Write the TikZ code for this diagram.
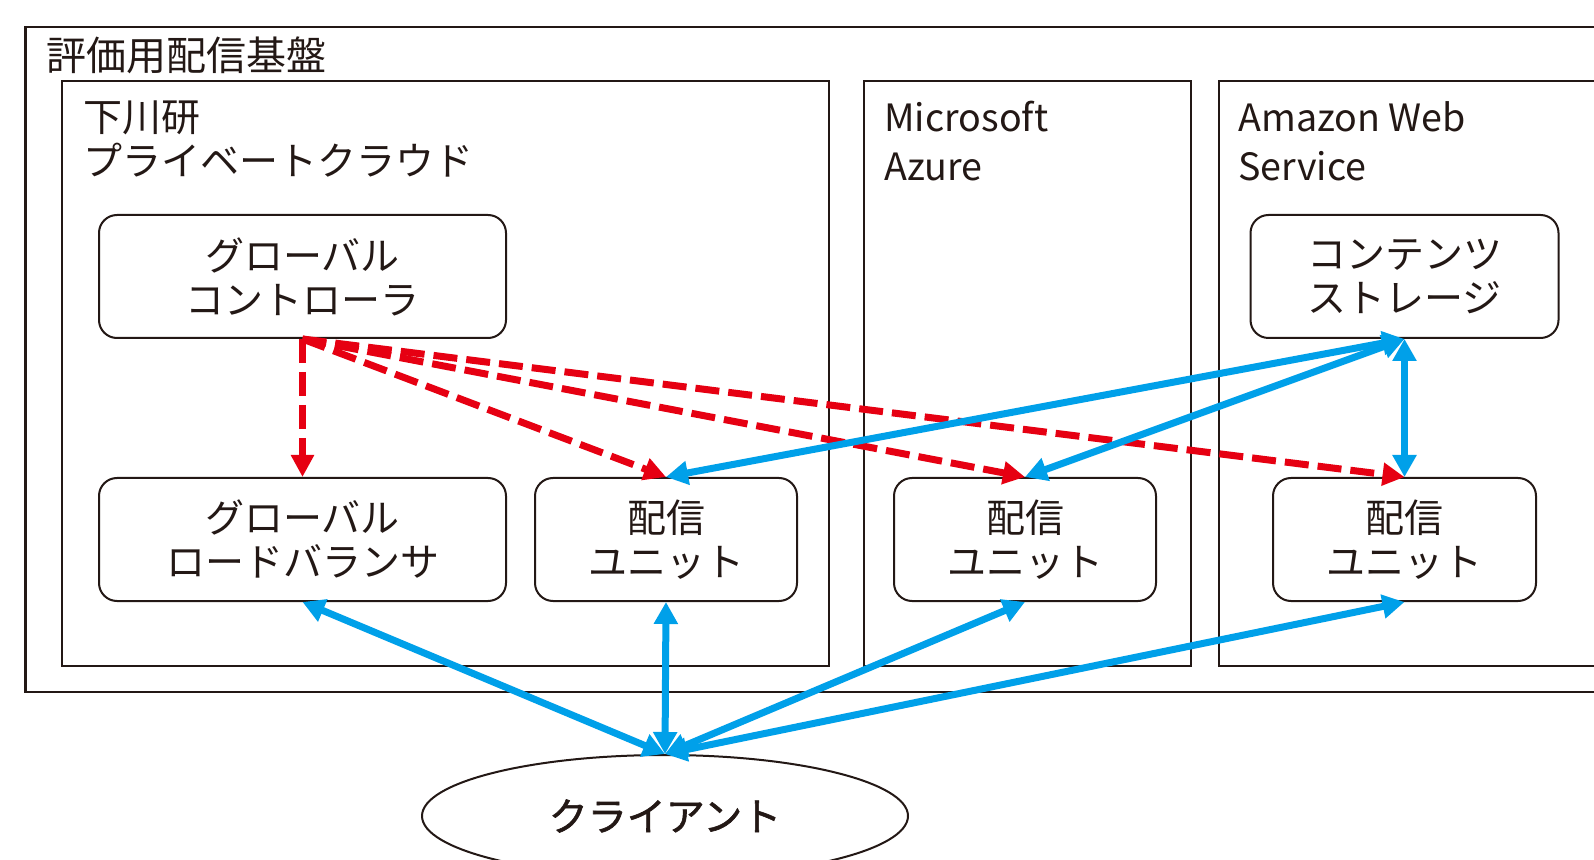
\documentclass[tikz,border=0pt]{standalone}
\usepackage{fontspec}
\setmainfont{Noto Sans CJK JP}
\newfontfamily\cjkmed[FakeBold=1.5]{Noto Sans CJK JP}
\usetikzlibrary{arrows.meta,shapes.geometric}
\definecolor{ink}{HTML}{231815}
\definecolor{cyanb}{HTML}{00A0E9}
\definecolor{redd}{HTML}{E60012}
\begin{document}
\begin{tikzpicture}[x=0.5pt,y=-0.5pt,
  box/.style={draw=ink, line width=1pt, rounded corners=9pt, minimum height=61.5pt, align=center,
    font=\fontsize{19.5pt}{23pt}\selectfont, text=ink, inner sep=0pt},
  grp/.style={draw=ink, line width=1pt},
  lbl/.style={anchor=base west, inner sep=0pt, text=ink, font=\fontsize{19.5pt}{22pt}\selectfont},
  lat/.style={lbl, font=\fontsize{18.8pt}{22pt}\selectfont},
  ctl/.style={draw=redd, line width=3.5pt, dash pattern=on 12pt off 4.5pt, -{Triangle[length=11pt,width=11pt]}},
  data/.style={draw=cyanb, line width=3.5pt, {Triangle[length=11pt,width=11.5pt]}-{Triangle[length=11pt,width=11.5pt]}}]
\useasboundingbox (0,0) rectangle (1594,860);
\clip (0,0) rectangle (1594,860);
\fill[white] (0,0) rectangle (1594,860);
% groups
\draw[grp, line width=1.2pt] (25.5,27) rectangle (1640,692);
\draw[grp] (62,81) rectangle (829,666);
\draw[grp] (864,81) rectangle (1191,666);
\draw[grp] (1219,81) rectangle (1640,666);
% group labels
\node[lbl, font=\fontsize{20pt}{22pt}\selectfont] (tmain) at (46,71) {評価用配信基盤};
\node[lbl] (tlab1) at (83,132) {下川研};
\node[lbl] (tlab2) at (83,176) {プライベートクラウド};
\node[lat] (taz1) at (884,132) {Microsoft};
\node[lat] (taz2) at (884,181) {Azure};
\node[lat] (taw1) at (1238,132) {Amazon Web};
\node[lat] (taw2) at (1238,181) {Service};
% nodes
\node[box, minimum width=203.5pt] (ctrl) at (302.5,276.5) {グローバル\\[-1pt]コントローラ};
\node[box, minimum width=203.5pt] (lb) at (302.5,539.5) {グローバル\\[-1pt]ロードバランサ};
\node[box, minimum width=131pt] (u1) at (666,539.5) {配信\\[-1pt]ユニット};
\node[box, minimum width=131pt] (u2) at (1025,539.5) {配信\\[-1pt]ユニット};
\node[box, minimum width=131.5pt] (u3) at (1404.5,539.5) {配信\\[-1pt]ユニット};
\node[box, minimum width=154pt] (st) at (1404.5,276.5) {コンテンツ\\[-1pt]ストレージ};
\node[draw=ink, line width=1pt, ellipse, minimum width=243pt, minimum height=61pt, inner sep=0pt,
  text=ink, font=\cjkmed\fontsize{19.5pt}{23pt}\selectfont] (cl) at (665,816) {クライアント};
% control (red dashed)
\draw[ctl] (ctrl.south) -- (lb.north);
\draw[ctl] (ctrl.south) -- (u1.north);
\draw[ctl] (ctrl.south) -- (u2.north);
\draw[ctl] (ctrl.south) -- (u3.north);
% data (blue)
\draw[data] (st.south) -- (u1.north);
\draw[data] (st.south) -- (u2.north);
\draw[data] (st.south) -- (u3.north);
\draw[data] (cl.north) -- (lb.south);
\draw[data] (cl.north) -- (u1.south);
\draw[data] (cl.north) -- (u2.south);
\draw[data] (cl.north) -- (u3.south);
\end{tikzpicture}
\end{document}
